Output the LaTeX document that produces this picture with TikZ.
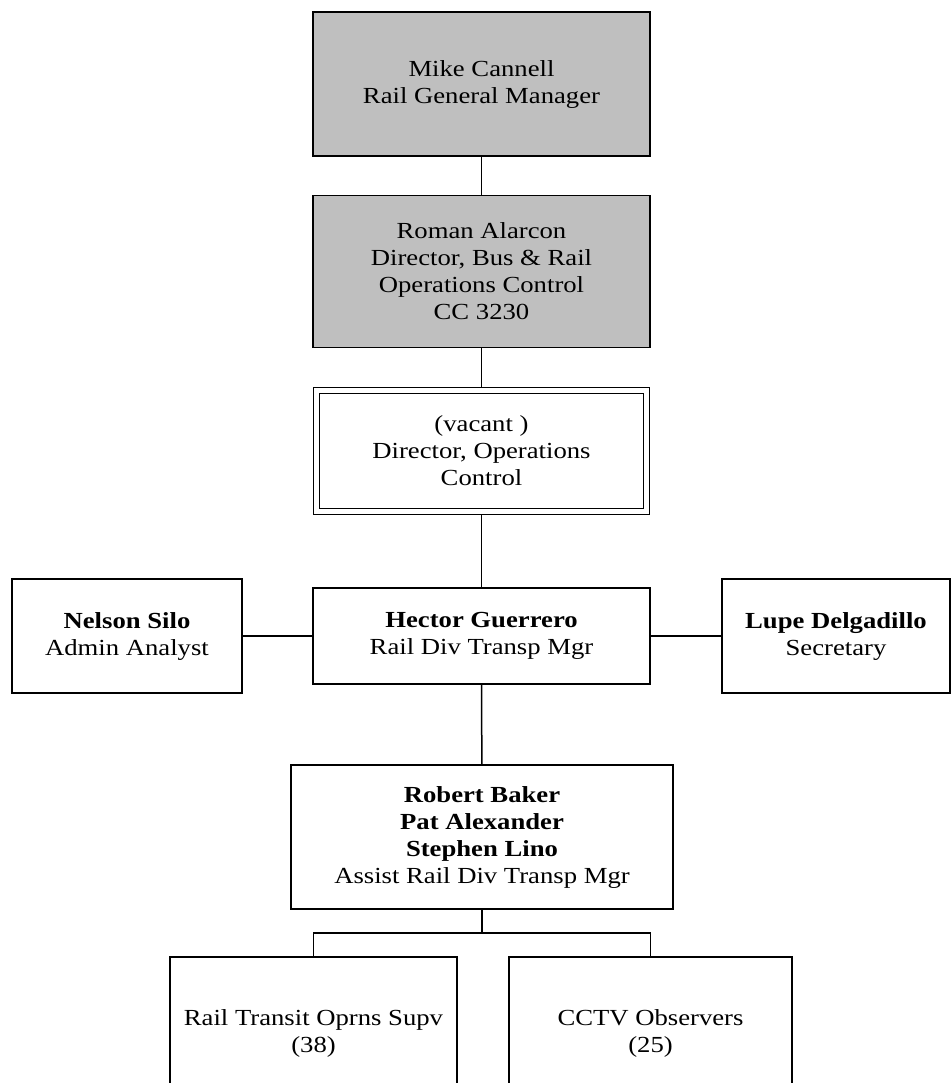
\documentclass[tikz,border=0pt]{standalone}
\usepackage{fontspec}
\setmainfont{Liberation Serif}[FakeStretch=1.16]
\usepackage{tikz}
\usetikzlibrary{positioning,backgrounds}

\begin{document}
\begin{tikzpicture}[
  x=0.5pt, y=-0.5pt,
  post/.style={draw, line width=0.9pt, fill=white, inner sep=0pt, align=center, font=\fontsize{11.5}{13.5}\selectfont},
  head/.style={post, fill=black!25},
  vacant/.style={post, line width=0.6pt, double, double distance=2.3pt},
  link/.style={line width=0.75pt},
]
\useasboundingbox (0,0) rectangle (951,1083);
\clip (0,0) rectangle (951,1083);

\node[head, minimum width=168.5pt, minimum height=72pt] (gm) at (481.5,84) {Mike Cannell\\Rail General Manager};
\node[head, minimum width=168.5pt, minimum height=76pt] (dir) at (481.5,271.5) {Roman Alarcon\\Director, Bus \& Rail\\Operations Control\\CC 3230};
\node[vacant, minimum width=165pt, minimum height=60.5pt] (vac) at (481.5,451) {(vacant )\\Director, Operations\\Control};
\node[post, minimum width=168.5pt, minimum height=48pt] (hector) at (481.5,636) {\textbf{Hector Guerrero}\\Rail Div Transp Mgr};
\node[post, minimum width=115pt, minimum height=57pt] (nelson) at (127,636) {\textbf{Nelson Silo}\\Admin Analyst};
\node[post, minimum width=114pt, minimum height=57pt] (lupe) at (836,636) {\textbf{Lupe Delgadillo}\\Secretary};
\node[post, minimum width=191pt, minimum height=72pt] (asst) at (482,837) {\textbf{Robert Baker}\\\textbf{Pat Alexander}\\\textbf{Stephen Lino}\\Assist Rail Div Transp Mgr};
\node[post, minimum width=143.5pt, minimum height=76.5pt] (supv) at (313.5,1033.5) {Rail Transit Oprns Supv\\(38)};
\node[post, minimum width=141.5pt, minimum height=76.5pt] (cctv) at (650.5,1033.5) {CCTV Observers\\(25)};

\coordinate (split) at (482,933);

\begin{scope}[on background layer]
\draw[link] (gm) -- (dir);
\draw[link] (dir) -- (vac);
\draw[link] (vac) -- (hector);
\draw[link] (nelson) -- (hector);
\draw[link] (hector) -- (lupe);
\draw[link] (hector) -- (asst);
\draw[link] (asst.south) -- (split);
\draw[link] (supv.north) |- (split) -| (cctv.north);
\end{scope}
\end{tikzpicture}
\end{document}
